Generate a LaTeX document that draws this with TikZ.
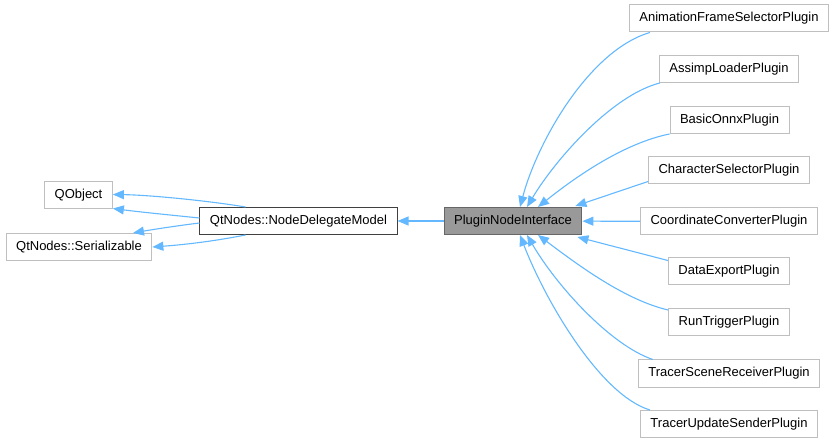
\documentclass[tikz,border=0pt]{standalone}
\usepackage{fontspec}
\setmainfont{Liberation Sans}
\usepackage{xcolor}
\definecolor{dgedge}{RGB}{99,184,255}
\definecolor{dgborder}{RGB}{191,191,191}
\definecolor{dgdark}{RGB}{64,64,64}
\definecolor{dgfocus}{RGB}{153,153,153}
\definecolor{dgfocusborder}{RGB}{102,102,102}
\usetikzlibrary{arrows.meta,positioning,calc}

\begin{document}
\begin{tikzpicture}[x=1pt, y=-1pt,
  cls/.style={draw=dgborder, fill=white, line width=1pt, minimum height=27pt, inner xsep=10pt, font=\fontsize{13}{15}\selectfont},
  edge/.style={draw=dgedge, line width=1.1pt, -{Triangle[length=11pt,width=9pt]}}]
  \useasboundingbox (0,0) rectangle (835,443);

  % Base classes
  \node[cls] (qobj) at (78.5,195.5) {QObject};
  \node[cls] (serial) at (79,247) {QtNodes::Serializable};
  \node[cls, draw=dgdark] (ndm) at (298.5,221) {QtNodes::NodeDelegateModel};

  % Interface
  \node[cls, draw=dgfocusborder, fill=dgfocus] (pni) at (513,221) {PluginNodeInterface};

  % Plugins
  \node[cls] (anim) at (729,18.5) {AnimationFrameSelectorPlugin};
  \node[cls] (assimp) at (729,69) {AssimpLoaderPlugin};
  \node[cls] (onnx) at (729.5,120) {BasicOnnxPlugin};
  \node[cls] (charsel) at (729,170.5) {CharacterSelectorPlugin};
  \node[cls] (coord) at (729,221.5) {CoordinateConverterPlugin};
  \node[cls] (dataexp) at (729,271.5) {DataExportPlugin};
  \node[cls] (runtrig) at (729,322) {RunTriggerPlugin};
  \node[cls] (tscene) at (729,373.5) {TracerSceneReceiverPlugin};
  \node[cls] (tupd) at (729,424) {TracerUpdateSenderPlugin};

  % Inheritance of NodeDelegateModel
  \draw[edge] ([xshift=-53]ndm.north) .. controls (210,201) and (150,195) .. ([yshift=1]qobj.east);
  \draw[edge] ([yshift=3]ndm.west) .. controls (170,215) and (140,212) .. ([yshift=-13]qobj.east);
  \draw[edge] ([yshift=-2]ndm.west) .. controls (175,226) and (150,230) .. ([xshift=54]serial.north);
  \draw[edge] ([xshift=-53]ndm.south) .. controls (210,242) and (180,245) .. (serial.east);
  \draw[edge] (pni) -- (ndm);

  % Plugins to interface
  \draw[edge] ([xshift=21]anim.south west) .. controls (590,50) and (538,140) .. ([xshift=7]pni.north);
  \draw[edge] ([xshift=1]assimp.south west) .. controls (612,95) and (555,160) .. ([xshift=14]pni.north);
  \draw[edge] (onnx.south west) .. controls (625,143) and (578,175) .. ([xshift=25]pni.north);
  \draw[edge] ([yshift=3]charsel.south west) -- ([xshift=-7,yshift=1]pni.north east);
  \draw[edge] (coord) -- (pni);
  \draw[edge] ([yshift=-3]dataexp.north west) -- ([xshift=-5,yshift=-2]pni.south east);
  \draw[edge] ([yshift=-2]runtrig.north west) .. controls (625,300) and (578,265) .. ([xshift=25]pni.south);
  \draw[edge] ([xshift=15]tscene.north west) .. controls (610,345) and (556,285) .. ([xshift=14]pni.south);
  \draw[edge] ([xshift=10]tupd.north west) .. controls (600,395) and (545,300) .. ([xshift=7]pni.south);
\end{tikzpicture}
\end{document}
